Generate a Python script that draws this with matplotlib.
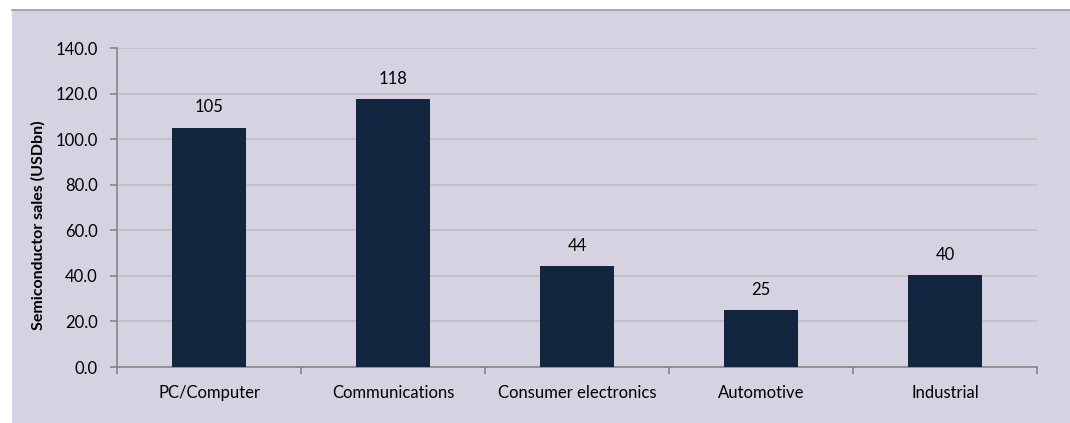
import matplotlib
matplotlib.use("Agg")
import matplotlib.pyplot as plt
import numpy as np
from matplotlib.patches import Rectangle
from matplotlib.lines import Line2D

categories = ["PC/Computer", "Communications", "Consumer electronics", "Automotive", "Industrial"]
sales = [104.9, 117.5, 44.2, 24.9, 40.3]
y_ticks = [0, 20, 40, 60, 80, 100, 120, 140]

BG = "#D6D2E2"
BAR = "#12263F"
AXIS = "#868686"
GRID = "#BFBFBF"

plt.rcParams["font.family"] = ["Lato", "DejaVu Sans"]

W, H = 1070, 423
fig = plt.figure(figsize=(W / 100, H / 100), dpi=100)
fig.patch.set_facecolor("white")
fig.patches.append(Rectangle((12 / W, 0), 1 - 12 / W, 1 - 10 / H, transform=fig.transFigure,
                             facecolor=BG, edgecolor="none", zorder=-10))
fig.lines.append(Line2D([12 / W, 1], [1 - 10 / H, 1 - 10 / H], transform=fig.transFigure,
                        color="#9B94B8", linewidth=1.2, zorder=-9))

ax = fig.add_axes([117 / W, 1 - 367 / H, (1037 - 117) / W, (367 - 48) / H])
ax.set_facecolor("none")

x = np.arange(len(categories))
ax.bar(x, sales, width=0.4, color=BAR, zorder=3)
for xi, v in zip(x, sales):
    ax.annotate(f"{v:.0f}", (xi, v), xytext=(0, 9), textcoords="offset points",
                ha="center", va="bottom", fontsize=12, color="#000000")

ax.set_xlim(-0.5, len(categories) - 0.5)
ax.set_ylim(0, 140)
ax.set_yticks(y_ticks)
ax.set_yticklabels([f"{t:.1f}" for t in y_ticks], fontsize=12)
ax.yaxis.grid(True, color=GRID, linewidth=1.2, zorder=0)
ax.set_axisbelow(True)

ax.set_xticks(x)
ax.set_xticklabels(categories, fontsize=12)
ax.set_xticks(np.arange(-0.5, len(categories)), minor=True)
ax.tick_params(axis="x", which="major", length=0, pad=13)
ax.tick_params(axis="x", which="minor", length=5, color=AXIS, width=1.2)
ax.tick_params(axis="y", length=5, color=AXIS, width=1.2, pad=9)

for side in ["top", "right"]:
    ax.spines[side].set_visible(False)
for side in ["left", "bottom"]:
    ax.spines[side].set_color(AXIS)
    ax.spines[side].set_linewidth(1.2)

ax.set_ylabel("Semiconductor sales (USDbn)", fontsize=11.5, fontweight="bold", va="center")
ax.yaxis.set_label_coords(-0.086, 0.445)

fig.savefig("out.png", dpi=100, facecolor=fig.get_facecolor())
